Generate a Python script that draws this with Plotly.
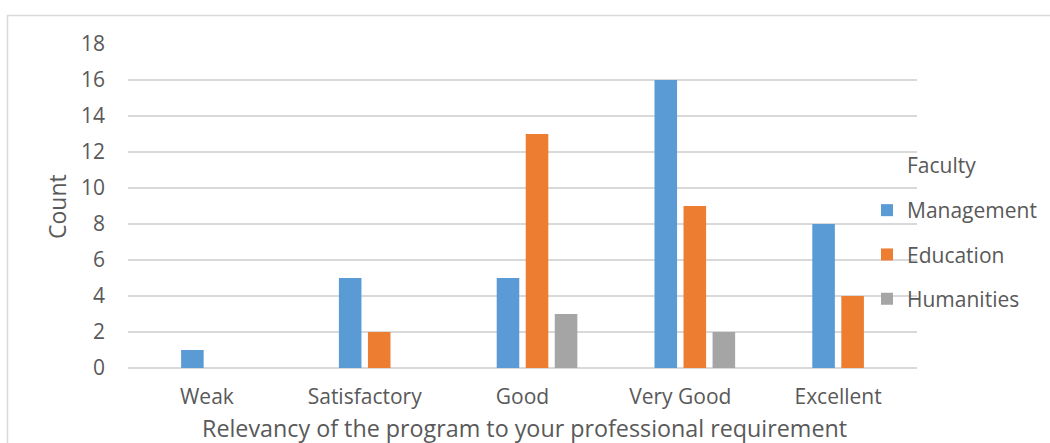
import plotly.graph_objects as go

categories = ["Weak", "Satisfactory", "Good", "Very Good", "Excellent"]
management = [1, 5, 5, 16, 8]
education = [0, 2, 13, 9, 4]
humanities = [0, 0, 3, 2, 0]
series_names = ["Management", "Education", "Humanities"]
colors = ["#5B9BD5", "#ED7D31", "#A5A5A5"]
y_ticks = list(range(0, 19, 2))

W, H = 1050, 443
L, R, T, B = 128, 133, 44, 75
pw = W - L - R
ph = H - T - B

FONT = "Open Sans"
TXT = "#595959"

fig = go.Figure()
slot = 0.184
bw = 0.143
inner = (slot - bw) / 2
for i, (name, vals, c) in enumerate(zip(series_names, [management, education, humanities], colors)):
    off = -2 * slot + (i + 1) * slot + inner
    fig.add_trace(go.Bar(
        x=categories, y=vals, name=name, marker=dict(color=c, line=dict(width=0)),
        width=bw, offset=off, legendgroup=name,
    ))

fig.update_layout(
    width=W, height=H,
    margin=dict(l=L, r=R, t=T, b=B, pad=0, autoexpand=False),
    paper_bgcolor="white", plot_bgcolor="white",
    font=dict(family=FONT, size=21, color=TXT),
    barmode="overlay",
    showlegend=True,
    legend=dict(
        x=(867 - L) / pw, xanchor="left",
        y=1 - (190 - T) / ph, yanchor="top",
        font=dict(family=FONT, size=21, color=TXT),
        tracegroupgap=14, bgcolor="rgba(0,0,0,0)",
        itemclick=False,
    ),
    xaxis=dict(
        type="category", showgrid=False, showline=False, ticks="",
        tickfont=dict(family=FONT, size=21, color=TXT),
        ticklabelstandoff=14, range=[-0.5, 4.5],
    ),
    yaxis=dict(
        range=[0, 18], tickvals=y_ticks, showgrid=True, gridcolor="#D9D9D9", gridwidth=1.5,
        zeroline=True, zerolinecolor="#D9D9D9", zerolinewidth=1.5,
        showline=False, ticks="",
        tickfont=dict(family=FONT, size=21, color=TXT),
        ticklabelstandoff=22,
    ),
    shapes=[dict(
        type="rect", xref="paper", yref="paper",
        x0=(7.5 - L) / pw, x1=(W + 20 - L) / pw,
        y0=-(H + 20 - (T + ph)) / ph, y1=(T + ph - 15.5) / ph,
        line=dict(color="#D9D9D9", width=1.5), fillcolor="rgba(0,0,0,0)", layer="below",
    )],
    annotations=[
        dict(text="Faculty", xref="paper", yref="paper",
             x=(905 - L) / pw, y=1 - (165 - T) / ph, xanchor="left", yanchor="middle",
             showarrow=False, font=dict(family=FONT, size=21, color=TXT)),
        dict(text="Count", xref="paper", yref="paper",
             x=(57 - L) / pw, y=1 - (207 - T) / ph, xanchor="center", yanchor="middle",
             textangle=-90, showarrow=False, font=dict(family=FONT, size=23, color=TXT)),
        dict(text="Relevancy of the program to your professional requirement", xref="paper", yref="paper",
             x=(524 - L) / pw, y=1 - (428 - T) / ph, xanchor="center", yanchor="middle",
             showarrow=False, font=dict(family=FONT, size=23.3, color=TXT)),
    ],
)

fig.write_html("out.html")
